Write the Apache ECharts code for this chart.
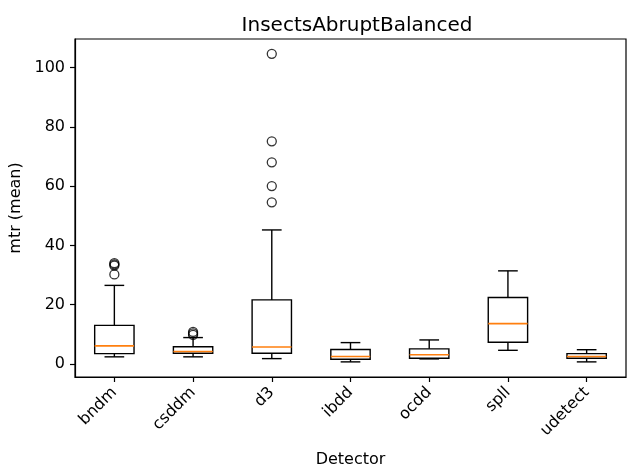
<!DOCTYPE html>
<html><head><meta charset="utf-8">
<script src="https://cdn.jsdelivr.net/npm/echarts@6/dist/echarts.min.js"></script>
<style>html,body{margin:0;padding:0;background:#fff}#c{width:628px;height:466px}</style>
</head><body><div id="c"></div>
<script>
const categories = ['bndm','csddm','d3','ibdd','ocdd','spll','udetect'];
// [low whisker, Q1, median, Q3, high whisker]
const bndm    = [2.4, 3.5, 6.1, 13.0, 26.5];
const csddm   = [2.4, 3.6, 4.2, 5.8, 8.9];
const d3      = [1.8, 3.6, 5.7, 21.6, 45.2];
const ibdd    = [0.7, 1.6, 2.5, 4.9, 7.2];
const ocdd    = [1.7, 1.9, 3.1, 5.1, 8.1];
const spll    = [4.6, 7.3, 13.6, 22.4, 31.4];
const udetect = [0.7, 1.9, 2.5, 3.5, 4.8];
const outliers = {
  bndm: [30.2, 33.2, 33.6, 34.0],
  csddm: [9.8, 10.3, 10.8],
  d3: [54.5, 60.0, 68.0, 75.1, 104.6]
};
const yTicks = [0, 20, 40, 60, 80, 100];

const boxes = [bndm, csddm, d3, ibdd, ocdd, spll, udetect];
const boxData = boxes.map((b, i) => [i].concat(b));
const outData = [];
categories.forEach((c, i) => { (outliers[c] || []).forEach(v => outData.push([i, v])); });

const chart = echarts.init(document.getElementById('c'), null, {renderer: 'canvas'});
const font = 'DejaVu Sans';
chart.setOption({
  animation: false,
  backgroundColor: '#fff',
  title: {text: 'InsectsAbruptBalanced', left: 352, top: 11, textAlign: 'center',
    textStyle: {fontFamily: font, fontSize: 20, fontWeight: 'normal', color: '#000'}},
  grid: {left: 75, right: 2, top: 39, bottom: 89, containLabel: false, outerBoundsMode: 'none',
    show: true, borderColor: '#000', borderWidth: 1.2, backgroundColor: 'transparent'},
  xAxis: {
    type: 'category', data: categories, boundaryGap: true,
    name: 'Detector', nameLocation: 'middle', nameGap: 75,
    nameTextStyle: {fontFamily: font, fontSize: 16, color: '#000'},
    axisLine: {show: true, onZero: false, lineStyle: {color: '#000', width: 1.2}},
    axisTick: {show: true, alignWithLabel: true, length: 5, lineStyle: {color: '#000', width: 1.2}},
    axisLabel: {rotate: 45, fontFamily: font, fontSize: 16, color: '#000', margin: 13, interval: 0},
    splitLine: {show: false}
  },
  yAxis: {
    type: 'value', min: -4.4, max: 109.6,
    name: 'mtr (mean)', nameLocation: 'middle', nameGap: 43,
    nameTextStyle: {fontFamily: font, fontSize: 16, color: '#000'},
    axisLine: {show: true, lineStyle: {color: '#000', width: 1.2}},
    axisTick: {show: true, length: 5, lineStyle: {color: '#000', width: 1.2}, customValues: yTicks},
    axisLabel: {fontFamily: font, fontSize: 16, color: '#000', margin: 10, customValues: yTicks},
    splitLine: {show: false}
  },
  series: [
    {
      type: 'custom',
      data: boxData,
      encode: {x: 0, y: [1, 2, 3, 4, 5]},
      renderItem: function (params, api) {
        const x = api.value(0);
        const lo = api.coord([x, api.value(1)]);
        const q1 = api.coord([x, api.value(2)]);
        const md = api.coord([x, api.value(3)]);
        const q3 = api.coord([x, api.value(4)]);
        const hi = api.coord([x, api.value(5)]);
        const bw = api.size([1, 0])[0] * 0.5;
        const cx = lo[0];
        const ls = {stroke: '#000', lineWidth: 1.4, fill: null};
        return {
          type: 'group',
          children: [
            {type: 'line', shape: {x1: cx, y1: lo[1], x2: cx, y2: q1[1]}, style: ls},
            {type: 'line', shape: {x1: cx, y1: q3[1], x2: cx, y2: hi[1]}, style: ls},
            {type: 'line', shape: {x1: cx - bw / 4, y1: lo[1], x2: cx + bw / 4, y2: lo[1]}, style: ls},
            {type: 'line', shape: {x1: cx - bw / 4, y1: hi[1], x2: cx + bw / 4, y2: hi[1]}, style: ls},
            {type: 'rect', shape: {x: cx - bw / 2, y: q3[1], width: bw, height: q1[1] - q3[1]}, style: {stroke: '#000', lineWidth: 1.4, fill: 'none'}},
            {type: 'line', shape: {x1: cx - bw / 2, y1: md[1], x2: cx + bw / 2, y2: md[1]}, style: {stroke: '#ff7f0e', lineWidth: 1.6}}
          ]
        };
      }
    },
    {
      type: 'scatter',
      data: outData,
      symbol: 'circle', symbolSize: 9,
      itemStyle: {color: 'transparent', borderColor: '#000', borderWidth: 1.3}
    }
  ]
});
</script></body></html>
